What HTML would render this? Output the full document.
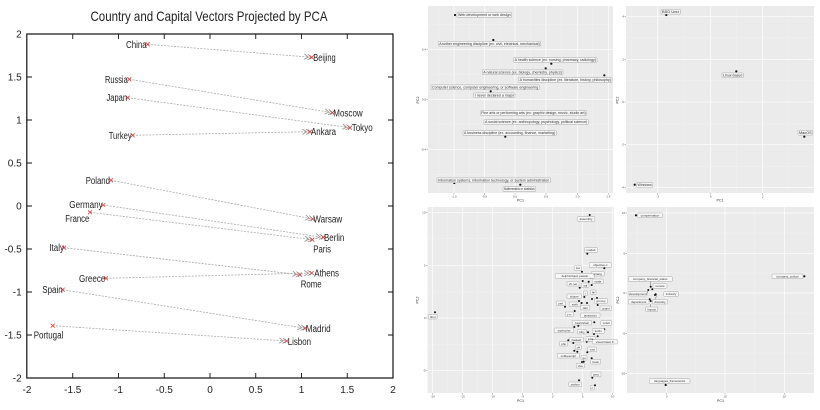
<!DOCTYPE html>
<html><head><meta charset="utf-8"><style>
html,body{margin:0;padding:0;background:#fff;}
svg{display:block;font-family:"Liberation Sans",sans-serif;}
</style></head><body>
<svg width="820" height="410" viewBox="0 0 820 410" xmlns="http://www.w3.org/2000/svg">
<defs>
<marker id="ah" markerWidth="10" markerHeight="8" refX="8" refY="4" orient="auto" markerUnits="userSpaceOnUse">
<path d="M0.5,1.3 L4.5,4 L0.5,6.7 M4,1.3 L8,4 L4,6.7" fill="none" stroke="#9a9a9a" stroke-width="0.9"/>
</marker>
</defs>
<rect width="820" height="410" fill="#fff"/>

<!-- LEFT CHART -->
<text x="209" y="21" font-size="14" text-anchor="middle" fill="#222" textLength="237" lengthAdjust="spacingAndGlyphs">Country and Capital Vectors Projected by PCA</text>

<g stroke="#aaa" stroke-width="0.8" stroke-dasharray="2,1.3" fill="none" marker-end="url(#ah)">
<path d="M147.7,44.3 L311.7,57.3"/>
<path d="M129.3,79.3 L332.3,112.7"/>
<path d="M127.7,97.7 L350,127.7"/>
<path d="M132.7,135.3 L310,131.7"/>
<path d="M111,180.3 L312.7,219"/>
<path d="M103.3,205 L323.3,237.3"/>
<path d="M90,212.3 L312.3,239.7"/>
<path d="M64,247.7 L300,274.7"/>
<path d="M106,278.3 L311.7,273"/>
<path d="M62.7,289.7 L305,328.3"/>
<path d="M52.7,325.7 L286.7,341"/>
</g>

<g stroke="#e8403a" stroke-width="0.8">
<path d="M145.7,42.3l4,4m0,-4l-4,4"/>
<path d="M309.7,55.3l4,4m0,-4l-4,4"/>
<path d="M127.3,77.3l4,4m0,-4l-4,4"/>
<path d="M330.3,110.7l4,4m0,-4l-4,4"/>
<path d="M125.7,95.7l4,4m0,-4l-4,4"/>
<path d="M348,125.7l4,4m0,-4l-4,4"/>
<path d="M130.7,133.3l4,4m0,-4l-4,4"/>
<path d="M308,129.7l4,4m0,-4l-4,4"/>
<path d="M109,178.3l4,4m0,-4l-4,4"/>
<path d="M310.7,217l4,4m0,-4l-4,4"/>
<path d="M101.3,203l4,4m0,-4l-4,4"/>
<path d="M321.3,235.3l4,4m0,-4l-4,4"/>
<path d="M88,210.3l4,4m0,-4l-4,4"/>
<path d="M310.3,237.7l4,4m0,-4l-4,4"/>
<path d="M62,245.7l4,4m0,-4l-4,4"/>
<path d="M298,272.7l4,4m0,-4l-4,4"/>
<path d="M104,276.3l4,4m0,-4l-4,4"/>
<path d="M309.7,271l4,4m0,-4l-4,4"/>
<path d="M60.7,287.7l4,4m0,-4l-4,4"/>
<path d="M303,326.3l4,4m0,-4l-4,4"/>
<path d="M50.7,323.7l4,4m0,-4l-4,4"/>
<path d="M284.7,339l4,4m0,-4l-4,4"/>
</g>

<g font-size="10" fill="#222" lengthAdjust="spacingAndGlyphs">
<text x="126" y="47.8" textLength="20.7" lengthAdjust="spacingAndGlyphs">China</text>
<text x="313.3" y="60.8" textLength="22.4" lengthAdjust="spacingAndGlyphs">Beijing</text>
<text x="105" y="82.8" textLength="22.7" lengthAdjust="spacingAndGlyphs">Russia</text>
<text x="106.5" y="101.2" textLength="20.5" lengthAdjust="spacingAndGlyphs">Japan</text>
<text x="333.3" y="116.5" textLength="29.4" lengthAdjust="spacingAndGlyphs">Moscow</text>
<text x="351.7" y="131.2" textLength="21" lengthAdjust="spacingAndGlyphs">Tokyo</text>
<text x="108.7" y="138.8" textLength="23" lengthAdjust="spacingAndGlyphs">Turkey</text>
<text x="311" y="135.2" textLength="25" lengthAdjust="spacingAndGlyphs">Ankara</text>
<text x="85.7" y="183.8" textLength="24.3" lengthAdjust="spacingAndGlyphs">Poland</text>
<text x="69.3" y="208" textLength="33.4" lengthAdjust="spacingAndGlyphs">Germany</text>
<text x="65.3" y="221.8" textLength="24" lengthAdjust="spacingAndGlyphs">France</text>
<text x="313.3" y="222.5" textLength="29" lengthAdjust="spacingAndGlyphs">Warsaw</text>
<text x="324" y="240.8" textLength="20.3" lengthAdjust="spacingAndGlyphs">Berlin</text>
<text x="313.3" y="252.5" textLength="17.7" lengthAdjust="spacingAndGlyphs">Paris</text>
<text x="49.3" y="251.2" textLength="14.7" lengthAdjust="spacingAndGlyphs">Italy</text>
<text x="314.3" y="276.5" textLength="24.7" lengthAdjust="spacingAndGlyphs">Athens</text>
<text x="300.7" y="287.5" textLength="21" lengthAdjust="spacingAndGlyphs">Rome</text>
<text x="79" y="281.8" textLength="26.3" lengthAdjust="spacingAndGlyphs">Greece</text>
<text x="42.3" y="293.2" textLength="20.4" lengthAdjust="spacingAndGlyphs">Spain</text>
<text x="305.7" y="332" textLength="25" lengthAdjust="spacingAndGlyphs">Madrid</text>
<text x="33.7" y="338.5" textLength="29.6" lengthAdjust="spacingAndGlyphs">Portugal</text>
<text x="287.7" y="344.8" textLength="23.3" lengthAdjust="spacingAndGlyphs">Lisbon</text>
</g>

<!-- frame & ticks -->
<rect x="26.8" y="34" width="366.2" height="344" fill="none" stroke="#111" stroke-width="1.2"/>
<g stroke="#111" stroke-width="0.9">
<path d="M72.75,378v-5M118.5,378v-5M164.25,378v-5M210,378v-5M255.75,378v-5M301.5,378v-5M347.25,378v-5"/>
<path d="M72.75,34v5M118.5,34v5M164.25,34v5M210,34v5M255.75,34v5M301.5,34v5M347.25,34v5"/>
<path d="M27,77h5M27,120h5M27,163h5M27,206h5M27,249h5M27,292h5M27,335h5"/>
<path d="M393,77h-5M393,120h-5M393,163h-5M393,206h-5M393,249h-5M393,292h-5M393,335h-5"/>
</g>
<g font-size="10" fill="#222" text-anchor="end">
<text x="21.7" y="37.5">2</text>
<text x="21.7" y="80.5">1.5</text>
<text x="21.7" y="123.5">1</text>
<text x="21.7" y="166.5">0.5</text>
<text x="21.7" y="209.5">0</text>
<text x="21.7" y="252.5">-0.5</text>
<text x="21.7" y="295.5">-1</text>
<text x="21.7" y="338.5">-1.5</text>
<text x="21.7" y="381.5">-2</text>
</g>
<g font-size="10" fill="#222" text-anchor="middle">
<text x="27" y="393">-2</text>
<text x="72.75" y="393">-1.5</text>
<text x="118.5" y="393">-1</text>
<text x="164.25" y="393">-0.5</text>
<text x="210" y="393">0</text>
<text x="255.75" y="393">0.5</text>
<text x="301.5" y="393">1</text>
<text x="347.25" y="393">1.5</text>
<text x="393" y="393">2</text>
</g>

<!-- RIGHT PANELS -->
<!-- Panel A -->
<rect x="428" y="6" width="185" height="187" fill="#ebebeb"/>
<g stroke="#f4f4f4" stroke-width="0.4">
<path d="M438.7,6v187M469.3,6v187M500,6v187M530.5,6v187M561.5,6v187M592.8,6v187"/>
<path d="M428,24.3h185M428,74.3h185M428,124.3h185M428,174.3h185"/>
</g>
<g stroke="#fff" stroke-width="0.7">
<path d="M454,6v187M484.5,6v187M515,6v187M546,6v187M577.3,6v187M608.3,6v187"/>
<path d="M428,49.3h185M428,99.3h185M428,149.3h185"/>
</g>
<!-- Panel B -->
<rect x="626" y="6" width="188" height="187" fill="#ebebeb"/>
<g stroke="#f4f4f4" stroke-width="0.4">
<path d="M631.3,6v187M684.2,6v187M736.7,6v187M788.7,6v187"/>
<path d="M626,37.8h188M626,80.7h188M626,123.3h188M626,166.2h188"/>
</g>
<g stroke="#fff" stroke-width="0.7">
<path d="M657.7,6v187M710.7,6v187M762.7,6v187"/>
<path d="M626,16.3h188M626,59.3h188M626,102h188M626,144.7h188M626,187.7h188"/>
</g>
<!-- Panel C -->
<rect x="427.5" y="207" width="186.5" height="186" fill="#ebebeb"/>
<g stroke="#f4f4f4" stroke-width="0.4">
<path d="M447.7,207v186M477.7,207v186M507.7,207v186M537.7,207v186M567.7,207v186M597.7,207v186"/>
<path d="M427.5,238.8h186.5M427.5,291.7h186.5M427.5,344.3h186.5"/>
</g>
<g stroke="#fff" stroke-width="0.7">
<path d="M432.7,207v186M462.7,207v186M492.7,207v186M522.7,207v186M552.7,207v186M582.7,207v186M612.7,207v186"/>
<path d="M427.5,212.3h186.5M427.5,265.3h186.5M427.5,318h186.5M427.5,370.7h186.5"/>
</g>
<!-- Panel D -->
<rect x="627" y="207" width="187" height="186" fill="#ebebeb"/>
<g stroke="#f4f4f4" stroke-width="0.4">
<path d="M637.5,207v186M695.8,207v186M754.7,207v186"/>
<path d="M627,233h187M627,273h187M627,313h187M627,353h187"/>
</g>
<g stroke="#fff" stroke-width="0.7">
<path d="M666.7,207v186M725,207v186M784.3,207v186"/>
<path d="M627,213h187M627,253.3h187M627,293h187M627,333.3h187M627,373.3h187"/>
</g>

<!-- tick marks -->
<g stroke="#444" stroke-width="0.35">
<path d="M454,193v1.5M484.5,193v1.5M515,193v1.5M546,193v1.5M577.3,193v1.5M608.3,193v1.5M426.5,49.3h1.5M426.5,99.3h1.5M426.5,149.3h1.5"/>
<path d="M657.7,193v1.5M710.7,193v1.5M762.7,193v1.5M624.5,16.3h1.5M624.5,59.3h1.5M624.5,102h1.5M624.5,144.7h1.5M624.5,187.7h1.5"/>
<path d="M432.7,393v1.5M462.7,393v1.5M492.7,393v1.5M522.7,393v1.5M552.7,393v1.5M582.7,393v1.5M612.7,393v1.5M426,212.3h1.5M426,265.3h1.5M426,318h1.5M426,370.7h1.5"/>
<path d="M666.7,393v1.5M725,393v1.5M784.3,393v1.5M625.5,213h1.5M625.5,253.3h1.5M625.5,293h1.5M625.5,333.3h1.5M625.5,373.3h1.5"/>
</g>
<g font-size="3" fill="#555" text-anchor="middle">
<text x="454" y="197.5">-1.0</text><text x="484.5" y="197.5">-0.5</text><text x="515" y="197.5">0.0</text><text x="546" y="197.5">0.5</text><text x="577.3" y="197.5">1.0</text><text x="608.3" y="197.5">1.5</text>
<text x="657.7" y="197.5">-2</text><text x="710.7" y="197.5">0</text><text x="762.7" y="197.5">2</text>
<text x="432.7" y="397.5">-20</text><text x="462.7" y="397.5">-15</text><text x="492.7" y="397.5">-10</text><text x="522.7" y="397.5">-5</text><text x="552.7" y="397.5">0</text><text x="582.7" y="397.5">5</text><text x="612.7" y="397.5">10</text>
<text x="666.7" y="397.5">0</text><text x="725" y="397.5">10</text><text x="784.3" y="397.5">20</text>
</g>
<g font-size="3" fill="#555" text-anchor="end">
<text x="426" y="50.3">0.4</text><text x="426" y="100.3">0.0</text><text x="426" y="150.3">-0.4</text>
<text x="624" y="17.3">4</text><text x="624" y="60.3">2</text><text x="624" y="103">0</text><text x="624" y="145.7">-2</text><text x="624" y="188.7">-4</text>
<text x="425.5" y="213.3">10</text><text x="425.5" y="266.3">5</text><text x="425.5" y="319">0</text><text x="425.5" y="371.7">-5</text>
<text x="625" y="214">10</text><text x="625" y="254.3">5</text><text x="625" y="294">0</text><text x="625" y="334.3">-5</text><text x="625" y="374.3">-10</text>
</g>
<g font-size="3.6" fill="#333" text-anchor="middle">
<text x="520.5" y="201.5">PC1</text>
<text x="720" y="201.5">PC1</text>
<text x="520.5" y="402">PC1</text>
<text x="720.5" y="402">PC1</text>
<text transform="translate(419,100) rotate(-90)">PC2</text>
<text transform="translate(618.5,100) rotate(-90)">PC2</text>
<text transform="translate(418.5,300) rotate(-90)">PC2</text>
<text transform="translate(618.8,300) rotate(-90)">PC2</text>
</g>

<!-- connector lines panel D -->
<g stroke="#333" stroke-width="0.35">
<path d="M650.7,281.4V286.7M650.7,304V311M655,299.4L657,295M647,293.7L648.3,290"/>
</g>

<!-- dots -->
<g fill="#111">
<circle cx="455" cy="15" r="1.1"/><circle cx="493.3" cy="40" r="1.1"/><circle cx="551.3" cy="63.7" r="1.1"/><circle cx="545.7" cy="68.3" r="1.1"/><circle cx="604.3" cy="75.3" r="1.1"/><circle cx="490.7" cy="91.3" r="1.1"/><circle cx="505.3" cy="136.7" r="1.1"/><circle cx="454.3" cy="183" r="1.1"/><circle cx="520.3" cy="184.7" r="1.1"/>
<circle cx="666.3" cy="15" r="1.1"/><circle cx="736.3" cy="71.3" r="1.1"/><circle cx="804.3" cy="136.7" r="1.1"/><circle cx="634.7" cy="184.7" r="1.1"/>
<circle cx="589.7" cy="215" r="1"/><circle cx="587.3" cy="253.7" r="1"/><circle cx="604.3" cy="268.3" r="1"/><circle cx="582" cy="271.7" r="1"/><circle cx="590.7" cy="277.7" r="1"/><circle cx="582.7" cy="281" r="1"/><circle cx="591.7" cy="285" r="1"/><circle cx="579.7" cy="287.7" r="1"/><circle cx="588.7" cy="281.7" r="1"/><circle cx="584.3" cy="297" r="1"/><circle cx="592" cy="299" r="1"/><circle cx="579" cy="301" r="1"/><circle cx="597" cy="298" r="1"/><circle cx="565" cy="306.7" r="1"/><circle cx="581.7" cy="303" r="1"/><circle cx="587" cy="303" r="1"/><circle cx="597.7" cy="305" r="1"/><circle cx="574.7" cy="311" r="1"/><circle cx="594.3" cy="322.3" r="1"/><circle cx="578.3" cy="325.7" r="1"/><circle cx="604.3" cy="329.3" r="1"/><circle cx="574.3" cy="327" r="1"/><circle cx="588" cy="332.3" r="1"/><circle cx="594" cy="334" r="1"/><circle cx="586.7" cy="341.7" r="1"/><circle cx="597.7" cy="336.3" r="1"/><circle cx="568.3" cy="340.3" r="1"/><circle cx="573.3" cy="343" r="1"/><circle cx="574.3" cy="350.7" r="1"/><circle cx="587.3" cy="352.3" r="1"/><circle cx="577.3" cy="351.7" r="1"/><circle cx="583.7" cy="361.7" r="1"/><circle cx="591.7" cy="358.3" r="1"/><circle cx="582" cy="362" r="1"/><circle cx="592.3" cy="377.7" r="1"/><circle cx="579" cy="380.3" r="1"/><circle cx="595" cy="385.3" r="1"/><circle cx="435" cy="312.3" r="1"/>
<circle cx="636" cy="215.3" r="1.1"/><circle cx="804.3" cy="276.3" r="1.1"/><circle cx="650.7" cy="286.7" r="1"/><circle cx="652.3" cy="289.3" r="1"/><circle cx="648.3" cy="290" r="1"/><circle cx="655.7" cy="294.3" r="1"/><circle cx="649.7" cy="299.3" r="1"/><circle cx="655" cy="295" r="1"/><circle cx="650.7" cy="301" r="1"/><circle cx="665.7" cy="385" r="1.1"/>
</g>

<!-- label boxes -->
<g fill="#f7f7f7" stroke="#8a8a8a" stroke-width="0.35">
<rect x="457" y="12.6" width="54.7" height="4.8" rx="0.6"/>
<rect x="438.3" y="41.3" width="102.4" height="4.8" rx="0.6"/>
<rect x="513.7" y="57.6" width="83.3" height="4.8" rx="0.6"/>
<rect x="482.3" y="69.9" width="80.7" height="4.8" rx="0.6"/>
<rect x="518.7" y="77.6" width="93.3" height="4.8" rx="0.6"/>
<rect x="431" y="84.9" width="108.3" height="4.8" rx="0.6"/>
<rect x="473.7" y="92.9" width="41.3" height="4.8" rx="0.6"/>
<rect x="480.3" y="110.6" width="106.4" height="4.8" rx="0.6"/>
<rect x="484" y="119.6" width="104.3" height="4.8" rx="0.6"/>
<rect x="463" y="130.6" width="93.3" height="4.8" rx="0.6"/>
<rect x="437" y="177.9" width="113.3" height="4.8" rx="0.6"/>
<rect x="503" y="186.6" width="32.7" height="4.8" rx="0.6"/>

<rect x="661" y="9.3" width="19.3" height="4.8" rx="0.6"/>
<rect x="722" y="72.9" width="21.3" height="4.8" rx="0.6"/>
<rect x="798" y="130.3" width="14.7" height="4.8" rx="0.6"/>
<rect x="636.5" y="182.6" width="16.2" height="4.8" rx="0.6"/>

<rect x="577.2" y="216.7" width="17.6" height="4.6" rx="0.6"/>
<rect x="584.4" y="247.7" width="13.2" height="4.6" rx="0.6"/>
<rect x="589.3" y="262.7" width="22" height="4.6" rx="0.6"/>
<rect x="574.2" y="265.7" width="7.5" height="4.6" rx="0.6"/>
<rect x="591.2" y="271.4" width="13" height="4.6" rx="0.6"/>
<rect x="555.2" y="273.7" width="39" height="4.6" rx="0.6"/>
<rect x="592.2" y="279" width="11" height="4.6" rx="0.6"/>
<rect x="567" y="281.4" width="12" height="4.6" rx="0.6"/>
<rect x="581.5" y="283" width="7.5" height="4.6" rx="0.6"/>
<rect x="583.3" y="291" width="4" height="4.6" rx="0.6"/>
<rect x="590.5" y="290" width="5.5" height="4.6" rx="0.6"/>
<rect x="567" y="294" width="14.5" height="4.6" rx="0.6"/>
<rect x="594.5" y="298.7" width="13" height="4.6" rx="0.6"/>
<rect x="556.2" y="301" width="9" height="4.6" rx="0.6"/>
<rect x="569.2" y="302" width="11" height="4.6" rx="0.6"/>
<rect x="580.8" y="305.4" width="9" height="4.6" rx="0.6"/>
<rect x="600" y="306" width="11.5" height="4.6" rx="0.6"/>
<rect x="565.3" y="312" width="8" height="4.6" rx="0.6"/>
<rect x="580.5" y="313" width="19.5" height="4.6" rx="0.6"/>
<rect x="572.2" y="320.4" width="19.5" height="4.6" rx="0.6"/>
<rect x="600.8" y="320.7" width="11" height="4.6" rx="0.6"/>
<rect x="554.2" y="328" width="19.5" height="4.6" rx="0.6"/>
<rect x="577.2" y="329.4" width="9" height="4.6" rx="0.6"/>
<rect x="592.3" y="328.7" width="12" height="4.6" rx="0.6"/>
<rect x="586" y="336.7" width="9.5" height="4.6" rx="0.6"/>
<rect x="592.2" y="339.4" width="25" height="4.6" rx="0.6"/>
<rect x="569.3" y="337.4" width="14" height="4.6" rx="0.6"/>
<rect x="559.7" y="341.4" width="8" height="4.6" rx="0.6"/>
<rect x="575.3" y="345" width="6" height="4.6" rx="0.6"/>
<rect x="587.8" y="347" width="9" height="4.6" rx="0.6"/>
<rect x="557.3" y="353.4" width="22" height="4.6" rx="0.6"/>
<rect x="581" y="355.4" width="6" height="4.6" rx="0.6"/>
<rect x="590.7" y="359.4" width="10" height="4.6" rx="0.6"/>
<rect x="576.3" y="363.4" width="8" height="4.6" rx="0.6"/>
<rect x="591" y="372" width="10" height="4.6" rx="0.6"/>
<rect x="568.8" y="382" width="13" height="4.6" rx="0.6"/>
<rect x="590.3" y="385.4" width="4" height="4.6" rx="0.6"/>
<rect x="428.2" y="314.4" width="9" height="4.6" rx="0.6"/>

<rect x="637.7" y="213" width="24.6" height="4.6" rx="0.6"/>
<rect x="772" y="274" width="31" height="4.6" rx="0.6"/>
<rect x="628.3" y="276.7" width="44" height="4.6" rx="0.6"/>
<rect x="653" y="283.7" width="14" height="4.6" rx="0.6"/>
<rect x="629" y="291.4" width="18" height="4.6" rx="0.6"/>
<rect x="663.7" y="291.7" width="14.6" height="4.6" rx="0.6"/>
<rect x="628.3" y="299.4" width="20.7" height="4.6" rx="0.6"/>
<rect x="652.7" y="299.4" width="14.6" height="4.6" rx="0.6"/>
<rect x="645.7" y="307" width="12" height="4.6" rx="0.6"/>
<rect x="649.3" y="378.7" width="40.7" height="4.6" rx="0.6"/>
</g>

<g font-size="3.2" fill="#333">
<text x="458" y="16.2" textLength="52.7" lengthAdjust="spacingAndGlyphs">Web development or web design</text>
<text x="439.3" y="44.9" textLength="100.4" lengthAdjust="spacingAndGlyphs">Another engineering discipline (ex. civil, electrical, mechanical)</text>
<text x="514.7" y="61.2" textLength="81.3" lengthAdjust="spacingAndGlyphs">A health science (ex. nursing, pharmacy, radiology)</text>
<text x="483.3" y="73.5" textLength="78.7" lengthAdjust="spacingAndGlyphs">A natural science (ex. biology, chemistry, physics)</text>
<text x="519.7" y="81.2" textLength="91.3" lengthAdjust="spacingAndGlyphs">A humanities discipline (ex. literature, history, philosophy)</text>
<text x="432" y="88.5" textLength="106.3" lengthAdjust="spacingAndGlyphs">Computer science, computer engineering, or software engineering</text>
<text x="474.7" y="96.5" textLength="39.3" lengthAdjust="spacingAndGlyphs">I never declared a major</text>
<text x="481.3" y="114.2" textLength="104.4" lengthAdjust="spacingAndGlyphs">Fine arts or performing arts (ex. graphic design, music, studio art)</text>
<text x="485" y="123.2" textLength="102.3" lengthAdjust="spacingAndGlyphs">A social science (ex. anthropology, psychology, political science)</text>
<text x="464" y="134.2" textLength="91.3" lengthAdjust="spacingAndGlyphs">A business discipline (ex. accounting, finance, marketing)</text>
<text x="438" y="181.5" textLength="111.3" lengthAdjust="spacingAndGlyphs">Information systems, information technology, or system administration</text>
<text x="504" y="190.2" textLength="30.7" lengthAdjust="spacingAndGlyphs">Mathematics or statistics</text>

<text x="662" y="12.9" textLength="17.3" lengthAdjust="spacingAndGlyphs">BSD Unix</text>
<text x="723" y="76.5" textLength="19.3" lengthAdjust="spacingAndGlyphs">Linux-based</text>
<text x="799" y="133.9" textLength="12.7" lengthAdjust="spacingAndGlyphs">MacOS</text>
<text x="637.5" y="186.2" textLength="14.2" lengthAdjust="spacingAndGlyphs">Windows</text>
</g>

<g font-size="3" fill="#333" text-anchor="middle">
<text x="586" y="220.1">assembly</text>
<text x="591" y="251.1">matlab</text>
<text x="600.3" y="266.1">objective-c</text>
<text x="578" y="269.1">lua</text>
<text x="597.7" y="274.8">erlang</text>
<text x="574.7" y="277.1">delphi/object pascal</text>
<text x="597.7" y="282.4">scala</text>
<text x="573" y="284.8">vb.net</text>
<text x="585.3" y="286.4">sql</text>
<text x="585.3" y="294.4">r</text>
<text x="593.3" y="293.4">f#</text>
<text x="574.3" y="297.4">clojure</text>
<text x="601" y="302.1">groovy</text>
<text x="560.7" y="304.4">perl</text>
<text x="574.7" y="305.4">swift</text>
<text x="585.3" y="308.8">dart</text>
<text x="605.7" y="309.4">ocaml</text>
<text x="569.3" y="315.4">c++</text>
<text x="590.3" y="316.4">javascript</text>
<text x="582" y="323.8">bash/shell</text>
<text x="606.3" y="324.1">cobol</text>
<text x="564" y="331.4">typescript</text>
<text x="581.7" y="332.8">ruby</text>
<text x="598.3" y="332.1">kotlin</text>
<text x="590.7" y="340.1">julia</text>
<text x="604.7" y="342.8">visual basic 6</text>
<text x="576.3" y="340.8">haskell</text>
<text x="563.7" y="344.8">php</text>
<text x="578.3" y="348.4">c#</text>
<text x="592.3" y="350.4">rust</text>
<text x="568.3" y="356.8">coffeescript</text>
<text x="584" y="358.8">go</text>
<text x="595.7" y="362.8">hack</text>
<text x="580.3" y="366.8">vba</text>
<text x="596" y="375.4">java</text>
<text x="575.3" y="385.4">python</text>
<text x="592.3" y="388.8">c</text>
<text x="432.7" y="317.8">html</text>

<text x="650" y="216.4">compensation</text>
<text x="787.5" y="277.4">company_culture</text>
<text x="650.3" y="280.1">company_financial_status</text>
<text x="660" y="287.1">remote</text>
<text x="638" y="294.8">development</text>
<text x="671" y="295.1">industry</text>
<text x="638.7" y="302.8">department</text>
<text x="660" y="302.8">diversity</text>
<text x="651.7" y="310.4">impact</text>
<text x="669.7" y="382.1">languages_frameworks</text>
</g>
</svg>
</body></html>
